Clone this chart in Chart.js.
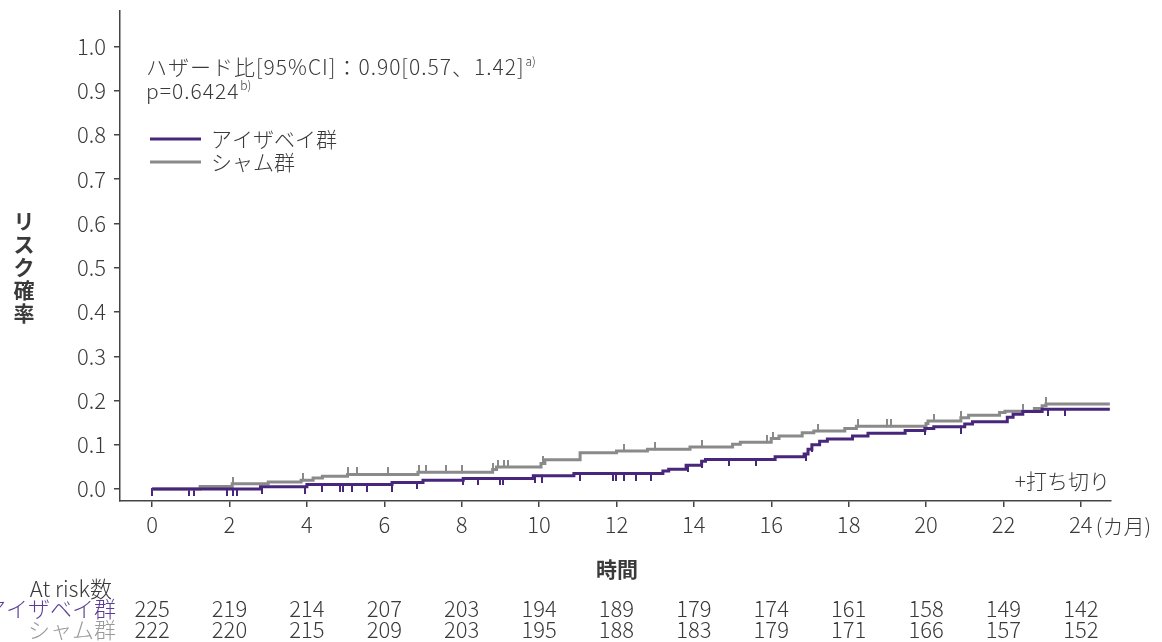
<!DOCTYPE html>
<html>
<head>
<meta charset="utf-8">
<script src="https://cdn.jsdelivr.net/npm/chart.js@4.4.1/dist/chart.umd.min.js"></script>
<style>
  html, body { margin: 0; padding: 0; background: #fff; }
  #chart-canvas { display: block; }
</style>
</head>
<body>
<canvas id="chart-canvas" width="1162" height="642"></canvas>
<script>
// Step data (months, cumulative risk).
var purpleTimes = [0, 2.8, 4.0, 6.2, 7.0, 8.04, 9.85, 10.9, 13.2, 13.35, 13.8, 14.2, 14.3, 16.1, 16.85, 16.95, 17.05, 17.25, 17.45, 18.1, 18.5, 19.46, 19.97, 20.2, 21.0, 21.2, 22.1, 22.25, 22.5, 23.0, 24.75];
var purpleRisk = [0, 0.005, 0.010, 0.015, 0.020, 0.024, 0.030, 0.035, 0.041, 0.045, 0.054, 0.063, 0.067, 0.073, 0.079, 0.090, 0.100, 0.108, 0.113, 0.120, 0.126, 0.132, 0.137, 0.141, 0.147, 0.152, 0.162, 0.169, 0.175, 0.180, 0.180];

var grayTimes = [0, 1.24, 2.07, 3.0, 3.85, 4.16, 4.4, 5.05, 6.87, 8.8, 8.9, 10.05, 10.15, 11.06, 12.0, 12.8, 13.9, 15.0, 15.2, 16.0, 16.2, 16.8, 17.1, 17.9, 18.2, 20.0, 20.05, 20.9, 21.1, 21.9, 22.04, 22.8, 23.0, 23.1, 24.75];
var grayRisk = [0, 0.006, 0.012, 0.016, 0.020, 0.025, 0.029, 0.033, 0.038, 0.044, 0.050, 0.058, 0.066, 0.082, 0.086, 0.090, 0.095, 0.101, 0.106, 0.114, 0.120, 0.127, 0.131, 0.137, 0.142, 0.148, 0.154, 0.161, 0.167, 0.173, 0.176, 0.182, 0.188, 0.192, 0.192];

// Censoring times
var purpleCensor = [0, 0.96, 1.09, 1.93, 2.08, 2.19, 2.83, 3.95, 4.38, 4.86, 4.94, 5.16, 5.55, 6.19, 6.85, 8.04, 8.42, 8.99, 9.06, 9.9, 10.07, 11.05, 11.9, 12.0, 12.2, 12.5, 12.9, 13.85, 14.2, 14.9, 15.6, 16.9, 17.05, 19.97, 20.9, 23.15, 23.6];
var grayCensor = [2.1, 3.9, 5.06, 5.3, 6.1, 6.9, 7.08, 7.6, 8.0, 8.8, 8.95, 9.1, 9.2, 10.1, 12.2, 13.0, 14.2, 15.9, 16.05, 17.2, 18.25, 19.0, 19.1, 20.2, 20.9, 22.5, 23.1];

var xTicks = [0, 2, 4, 6, 8, 10, 12, 14, 16, 18, 20, 22, 24];
var yTicks = [0, 0.1, 0.2, 0.3, 0.4, 0.5, 0.6, 0.7, 0.8, 0.9, 1.0];

var groupNames = ['アイザベイ群', 'シャム群'];
var atRiskPurple = [225, 219, 214, 207, 203, 194, 189, 179, 174, 161, 158, 149, 142];
var atRiskGray = [222, 220, 215, 209, 203, 195, 188, 183, 179, 171, 166, 157, 152];

var PURPLE = '#47267c';
var GRAY = '#8a8a8a';
var TEXT = '#3a3a3a';
var FONT = '"Noto Sans CJK JP", "Noto Sans", sans-serif';

function toPoints(times, risks) {
  var pts = [];
  for (var i = 0; i < times.length; i++) {
    pts.push({x: times[i], y: risks[i]});
  }
  return pts;
}

// Value of the step curve at time t.
function riskAt(times, risks, t) {
  var v = risks[0];
  for (var i = 0; i < times.length; i++) {
    if (times[i] <= t) v = risks[i];
  }
  return v;
}

function censorPoints(censor, times, risks) {
  return censor.map(function (t) {
    return {x: t, y: riskAt(times, risks, t)};
  });
}

// Small vertical tick used as the censor mark, drawn on one side of the line.
function censorMark(color, down) {
  var c = document.createElement('canvas');
  c.width = 2;
  c.height = 14;
  var g = c.getContext('2d');
  g.fillStyle = color;
  if (down) g.fillRect(0, 6, 2, 8);
  else g.fillRect(0, 0, 2, 8);
  return c;
}

var extraText = {
  id: 'extraText',
  afterDraw: function (chart) {
    var ctx = chart.ctx;
    var xs = chart.scales.x;
    ctx.save();
    ctx.textBaseline = 'middle';

    // hazard ratio and p value
    ctx.fillStyle = TEXT;
    ctx.textAlign = 'left';
    ctx.font = '300 21px ' + FONT;
    ctx.letterSpacing = '1px';
    var hr = 'ハザード比[95%CI]：0.90[0.57、1.42]';
    ctx.fillText(hr, 146, 67);
    var w = ctx.measureText(hr).width;
    var p = 'p=0.6424';
    ctx.fillText(p, 146, 91);
    var pw = ctx.measureText(p).width;
    ctx.letterSpacing = '0px';
    ctx.font = '300 12px ' + FONT;
    ctx.fillText('a)', 146 + w + 1, 61);
    ctx.fillText('b)', 146 + pw + 1, 85);

    // legend
    var legend = [[PURPLE, groupNames[0], 139], [GRAY, groupNames[1], 162]];
    legend.forEach(function (item) {
      ctx.strokeStyle = item[0];
      ctx.lineWidth = 3;
      ctx.beginPath();
      ctx.moveTo(150, item[2]);
      ctx.lineTo(201, item[2]);
      ctx.stroke();
      ctx.fillStyle = TEXT;
      ctx.font = '300 21px ' + FONT;
      ctx.fillText(item[1], 211, item[2]);
    });

    // censor note
    ctx.textAlign = 'right';
    ctx.fillText('+打ち切り', 1110, 481);

    // month unit after the last tick label
    ctx.textAlign = 'left';
    ctx.font = '300 21px ' + FONT;
    ctx.fillText('(カ月)', xs.getPixelForValue(24) + 15, 526);

    // y axis title, stacked upright
    ctx.textAlign = 'center';
    ctx.font = 'bold 21px ' + FONT;
    var title = 'リスク確率';
    for (var i = 0; i < title.length; i++) {
      ctx.fillText(title[i], 24, 221 + i * 23);
    }

    // x axis title
    ctx.fillText('時間', 617, 569);

    // at risk table
    ctx.font = '300 22px ' + FONT;
    ctx.textAlign = 'right';
    ctx.fillStyle = TEXT;
    ctx.fillText('At risk数', 112, 589);
    ctx.fillStyle = '#5b3d92';
    ctx.fillText(groupNames[0], 116, 609);
    ctx.fillStyle = '#9a9a9a';
    ctx.fillText(groupNames[1], 116, 630);

    ctx.textAlign = 'center';
    ctx.fillStyle = TEXT;
    for (var j = 0; j < xTicks.length; j++) {
      var px = xs.getPixelForValue(xTicks[j]);
      ctx.fillText(String(atRiskPurple[j]), px, 609);
      ctx.fillText(String(atRiskGray[j]), px, 630);
    }
    ctx.restore();
  }
};

var canvasElement = document.getElementById('chart-canvas');

new Chart(canvasElement, {
  type: 'scatter',
  data: {
    datasets: [
      {
        label: groupNames[0],
        data: toPoints(purpleTimes, purpleRisk),
        showLine: true,
        stepped: 'before',
        borderColor: PURPLE,
        borderWidth: 3,
        pointRadius: 0
      },
      {
        label: groupNames[1],
        data: toPoints(grayTimes, grayRisk),
        showLine: true,
        stepped: 'before',
        borderColor: GRAY,
        borderWidth: 3,
        pointRadius: 0
      },
      {
        label: 'censor1',
        data: censorPoints(purpleCensor, purpleTimes, purpleRisk),
        pointStyle: censorMark(PURPLE, true),
        pointRadius: 4
      },
      {
        label: 'censor2',
        data: censorPoints(grayCensor, grayTimes, grayRisk),
        pointStyle: censorMark(GRAY, false),
        pointRadius: 4
      }
    ]
  },
  options: {
    responsive: false,
    animation: false,
    devicePixelRatio: 1,
    layout: {padding: {left: 0, right: 51, top: 11, bottom: 101}},
    plugins: {
      legend: {display: false},
      tooltip: {enabled: false}
    },
    scales: {
      x: {
        type: 'linear',
        position: 'bottom',
        min: -0.83,
        max: 24.78,
        afterBuildTicks: function (scale) {
          scale.ticks = xTicks.map(function (v) { return {value: v}; });
        },
        afterFit: function (scale) {
          scale.height = 40;
          scale.paddingLeft = 0;
          scale.paddingRight = 0;
        },
        grid: {drawOnChartArea: false, drawTicks: true, tickLength: 6, color: '#444', lineWidth: 1.5},
        border: {display: true, color: '#444', width: 1.5},
        ticks: {
          font: {family: FONT, size: 22, weight: '300'},
          color: TEXT,
          padding: 4,
          maxRotation: 0,
          autoSkip: false
        }
      },
      y: {
        type: 'linear',
        min: -0.027,
        max: 1.08,
        afterBuildTicks: function (scale) {
          scale.ticks = yTicks.map(function (v) { return {value: v}; });
        },
        afterFit: function (scale) {
          scale.width = 120;
          scale.paddingTop = 0;
          scale.paddingBottom = 0;
        },
        grid: {drawOnChartArea: false, drawTicks: true, tickLength: 6, color: '#444', lineWidth: 1.5},
        border: {display: true, color: '#444', width: 1.5},
        ticks: {
          font: {family: FONT, size: 22, weight: '300'},
          color: TEXT,
          padding: 8,
          callback: function (v) { return v.toFixed(1); }
        }
      }
    }
  },
  plugins: [extraText]
});
</script>
</body>
</html>
